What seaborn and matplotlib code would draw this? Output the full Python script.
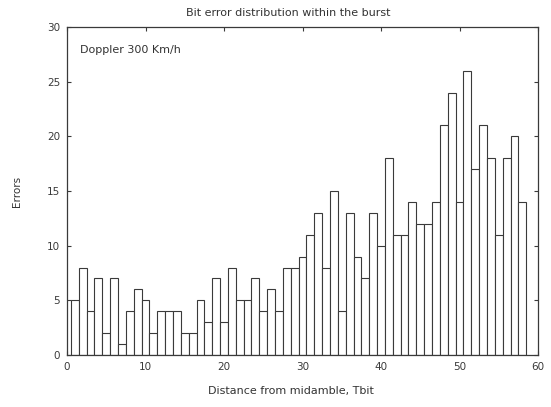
import matplotlib
matplotlib.use("Agg")
import matplotlib.pyplot as plt
import seaborn as sns
import pandas as pd

distance = list(range(1, 59))
errors = [5, 8, 4, 7, 2, 7, 1, 4, 6, 5, 2, 4, 4, 4, 2, 2, 5, 3, 7, 3,
          8, 5, 5, 7, 4, 6, 4, 8, 8, 9, 11, 13, 8, 15, 4, 13, 9, 7, 13, 10,
          18, 11, 11, 14, 12, 12, 14, 21, 24, 14, 26, 17, 21, 18, 11, 18, 20, 14]
x_ticks = [0, 10, 20, 30, 40, 50, 60]
y_ticks = [0, 5, 10, 15, 20, 25, 30]

sns.set_style("white")
plt.rcParams['font.family'] = ['DejaVu Sans']

df = pd.DataFrame({"distance": distance, "errors": errors})

fig = plt.figure(figsize=(5.51, 4.07), dpi=100)
ax = fig.add_axes([67/551, 1-355/407, (538-67)/551, (355-27)/407])

sns.barplot(data=df, x="distance", y="errors", native_scale=True, width=1,
            color="white", edgecolor="#3a3a3a", linewidth=0.8, saturation=1, ax=ax)

ax.set_xlim(0, 60)
ax.set_ylim(0, 30)
ax.set_xticks(x_ticks)
ax.set_yticks(y_ticks)
ax.tick_params(direction="in", length=3, width=0.8, colors="#3a3a3a",
               labelsize=7.5, top=True, right=True, bottom=True, left=True, pad=5)
for s in ax.spines.values():
    s.set_color("#3a3a3a")
    s.set_linewidth(0.9)
    s.set_visible(True)

ax.set_title("Bit error distribution within the burst", fontsize=8, color="#333333",
             pad=8, x=0.47)
ax.set_xlabel("Distance from midamble, Tbit", fontsize=8, color="#333333")
ax.xaxis.set_label_coords(0.475, -0.095)
ax.set_ylabel("Errors", fontsize=7.5, color="#333333", labelpad=18)
ax.text(0.028, 0.93, "Doppler 300 Km/h", transform=ax.transAxes, fontsize=8,
        color="#333333", va="center", ha="left")

fig.savefig("out.png", dpi=100, facecolor="white")
